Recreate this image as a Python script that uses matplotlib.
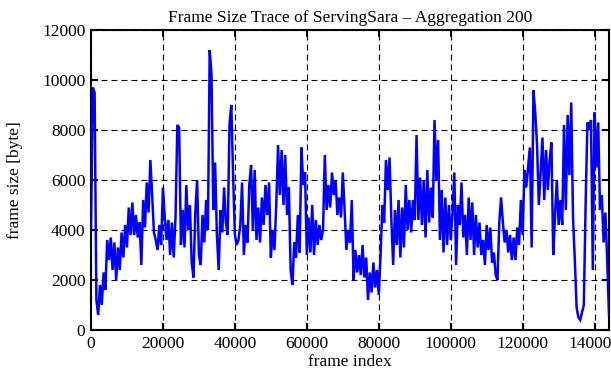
import numpy as np
import matplotlib
matplotlib.use("Agg")
import matplotlib.pyplot as plt

# Aggregated frame sizes (bytes), one value every 500 frames
frame_sizes = [
    4000, 9700, 9500, 1200, 600, 1800, 1000, 2300, 1600, 3600,
    2800, 3700, 2400, 3500, 2000, 3300, 2400, 3900, 2900, 4200,
    3300, 4900, 3800, 5100, 3800, 4600, 3700, 4300, 2600, 5200,
    4100, 5900, 4700, 6800, 5400, 3900, 3600, 3200, 4200, 3400,
    5700, 4500, 3600, 4400, 3000, 4300, 2900, 4500, 8200, 8100,
    3400, 4800, 3300, 5800, 4000, 5000, 2700, 2100, 4700, 6000,
    3000, 2600, 4600, 3500, 5200, 4000, 11200, 10200, 4800, 6700,
    3800, 2400, 4800, 3900, 5700, 4300, 3800, 8200, 9000, 6200,
    3800, 3400, 3600, 4200, 5900, 3000, 4200, 3500, 5800, 6600,
    4000, 6400, 3600, 4900, 3500, 5300, 4200, 5800, 4600, 5900,
    2900, 4000, 3200, 5000, 7400, 5400, 7200, 5000, 7000, 4600,
    5700, 2400, 1800, 3500, 2900, 4600, 3100, 7300, 5800, 6300,
    3000, 4500, 3100, 5000, 3000, 4400, 3400, 4200, 3600, 4000,
    7000, 4800, 5800, 4900, 6300, 5400, 6000, 4600, 5300, 4500,
    6300, 4800, 3200, 4000, 3500, 5200, 2000, 3200, 2300, 3000,
    2200, 3400, 2100, 2900, 1200, 2300, 1500, 2700, 1700, 2400,
    1400, 3000, 5000, 4300, 6800, 5600, 6900, 4400, 2600, 4800,
    3400, 5200, 2900, 4900, 3300, 5800, 4000, 5200, 3900, 5200,
    4400, 7800, 4400, 6100, 4200, 6000, 3700, 6400, 4300, 5700,
    4500, 8400, 6000, 7600, 3600, 5600, 3100, 5300, 3400, 5000,
    3600, 4700, 6300, 2600, 5000, 4200, 5900, 3700, 4600, 3000,
    5300, 3600, 5100, 3000, 4600, 3300, 4300, 3000, 3600, 2600,
    4200, 3200, 4100, 2700, 3100, 2200, 2000, 4300, 5300, 4300,
    3500, 4000, 3100, 3800, 2800, 3700, 2800, 4100, 3400, 5200,
    3800, 6400, 5700, 6500, 7300, 3300, 9600, 8700, 7400, 5000,
    6300, 7700, 5200, 7200, 5600, 6800, 7500, 3000, 4600, 6000,
    4200, 5200, 4200, 8200, 4800, 8600, 6200, 9100, 4500, 2800,
    900, 500, 400, 700, 1000, 5000, 8300, 8000, 8400, 2400,
    8700, 6500, 8300, 4800, 5400, 3500, 4700, 2800, 600,
]
frame_step = 500
x_ticks = [0, 20000, 40000, 60000, 80000, 100000, 120000, 140000]
y_ticks = [0, 2000, 4000, 6000, 8000, 10000, 12000]

title = "Frame Size Trace of ServingSara – Aggregation 200"
xlabel = "frame index"
ylabel = "frame size [byte]"

plt.rcParams['font.family'] = ['Liberation Serif', 'DejaVu Serif']
plt.rcParams['lines.scale_dashes'] = False
fs = 12.5

frames = np.arange(len(frame_sizes)) * frame_step

fig = plt.figure(figsize=(6.11, 3.80), dpi=100)
ax = fig.add_axes([91/611, 50/380, 518/611, 300/380])

ax.plot(frames, frame_sizes, color='#0000ff', lw=1.8, solid_joinstyle='miter', zorder=3)

ax.set_xlim(0, 144000)
ax.set_ylim(0, 12000)
ax.set_xticks(x_ticks)
ax.set_yticks(y_ticks)
ax.set_xticklabels([str(t) for t in x_ticks], fontsize=fs)
ax.set_yticklabels([str(t) for t in y_ticks], fontsize=fs)
ax.tick_params(direction='in', length=5, width=1.5, top=True, right=True, pad=4)
ax.grid(True, color='black', lw=0.8, linestyle=(0, (4.3, 2.9)))
for s in ax.spines.values():
    s.set_linewidth(1.5)

ax.set_title(title, fontsize=fs, pad=6)
ax.set_xlabel(xlabel, fontsize=fs, labelpad=2)
ax.set_ylabel(ylabel, fontsize=fs, labelpad=14)

fig.savefig("out.png", dpi=100)
